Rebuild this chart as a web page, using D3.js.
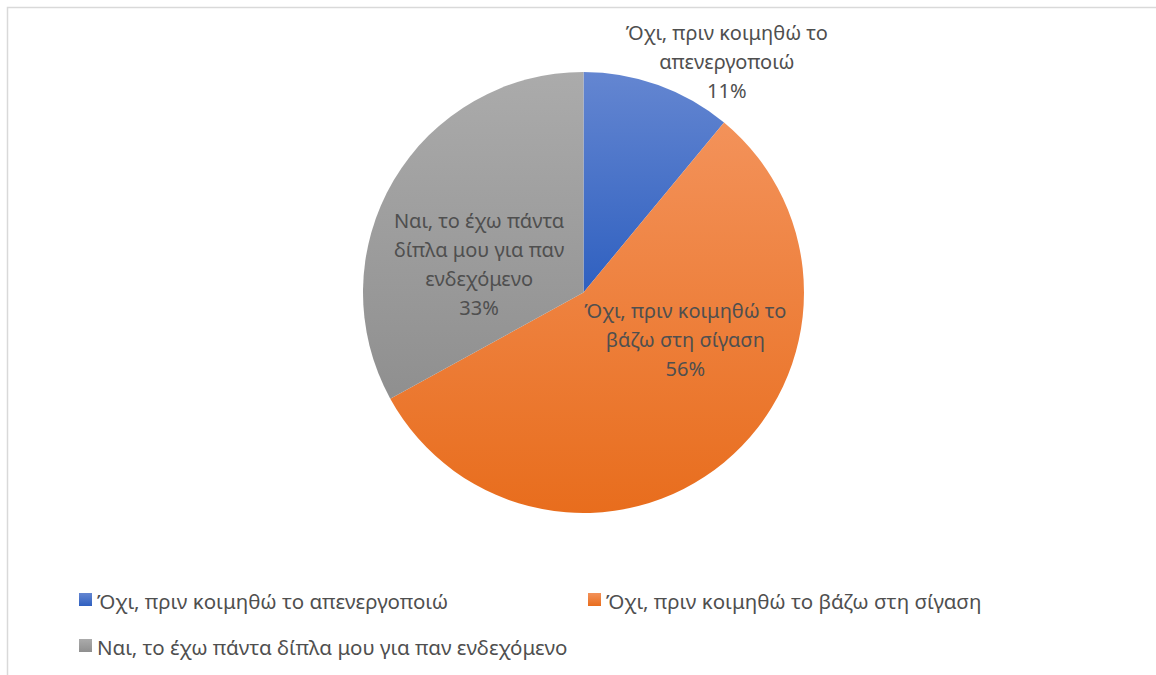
<!DOCTYPE html>
<html>
<head>
<meta charset="utf-8">
<script src="https://cdn.jsdelivr.net/npm/d3@7"></script>
<style>
  html, body { margin: 0; padding: 0; background: #fff; }
  svg { display: block; }
  text { font-family: "Noto Sans", "Open Sans", sans-serif; fill: #4f4f4f; }
</style>
</head>
<body>
<svg id="chart" width="1156" height="675"></svg>
<script>
// Answer categories (one per slice), in drawing order clockwise from 12 o'clock
const categories = [
  "Όχι, πριν κοιμηθώ το απενεργοποιώ",
  "Όχι, πριν κοιμηθώ το βάζω στη σίγαση",
  "Ναι, το έχω πάντα δίπλα μου για παν ενδεχόμενο"
];
// Share of answers, percent
const shares = [11, 56, 33];
// Wrapped label lines shown on the slices
const labelLines = [
  ["Όχι, πριν κοιμηθώ το", "απενεργοποιώ"],
  ["Όχι, πριν κοιμηθώ το", "βάζω στη σίγαση"],
  ["Ναι, το έχω πάντα", "δίπλα μου για παν", "ενδεχόμενο"]
];
// Gradient stops (top, bottom) per slice
const gradTop = ["#6486d1", "#f3925a", "#ababab"];
const gradBottom = ["#2f60c0", "#e86d1d", "#8f8f8f"];

const W = 1156, H = 675;
const cx = 583.5, cy = 292.5, R = 220.5;

const svg = d3.select("#chart");

// Chart frame (extends past right and bottom edges)
svg.append("rect")
  .attr("x", 7.5).attr("y", 7.5)
  .attr("width", W + 20).attr("height", H + 20)
  .attr("fill", "none")
  .attr("stroke", "#d9d9d9")
  .attr("stroke-width", 1.5);

const defs = svg.append("defs");
categories.forEach((c, i) => {
  const g = defs.append("linearGradient")
    .attr("id", "grad" + i)
    .attr("x1", 0).attr("y1", 0).attr("x2", 0).attr("y2", 1);
  g.append("stop").attr("offset", "0%").attr("stop-color", gradTop[i]);
  g.append("stop").attr("offset", "100%").attr("stop-color", gradBottom[i]);
});

const data = categories.map((c, i) => ({ cat: c, value: shares[i], i, lines: labelLines[i] }));

const pie = d3.pie().value(d => d.value).sort(null);
const arc = d3.arc().innerRadius(0).outerRadius(R);
const arcs = pie(data);

const g = svg.append("g").attr("transform", `translate(${cx},${cy})`);

g.selectAll("path.slice")
  .data(arcs)
  .join("path")
  .attr("class", "slice")
  .attr("d", arc)
  .attr("fill", d => `url(#grad${d.data.i})`);

// Label block placement: polar (degrees clockwise from 12 o'clock, radius as fraction of R)
const labelPolar = [
  { deg: 31.9, r: 1.23 },
  { deg: 115.1, r: 0.51 },
  { deg: 284.9, r: 0.49 }
];
const lineH = 29;
const fontSize = 20;

arcs.forEach((a, k) => {
  const d = a.data;
  const lines = d.lines.concat([d.value + "%"]);
  const [lx, ly] = d3.pointRadial(labelPolar[k].deg * Math.PI / 180, labelPolar[k].r * R);
  const t = g.append("text")
    .attr("text-anchor", "middle")
    .style("font-size", fontSize + "px");
  const n = lines.length;
  // vertical centring of the text block on the anchor
  const y0 = ly - (n - 1) * lineH / 2 + fontSize * 0.35;
  lines.forEach((ln, j) => {
    t.append("tspan").attr("x", lx).attr("y", y0 + j * lineH).text(ln);
  });
});

// Legend
const legendPos = [
  { x: 79, y: 593 },
  { x: 588, y: 593 },
  { x: 79, y: 639 }
];
const leg = svg.append("g");
data.forEach((d, i) => {
  const p = legendPos[i];
  leg.append("rect")
    .attr("x", p.x).attr("y", p.y)
    .attr("width", 13).attr("height", 13)
    .attr("fill", `url(#grad${i})`);
  leg.append("text")
    .attr("x", p.x + 18).attr("y", p.y + 16)
    .style("font-size", "20.5px")
    .text(d.cat);
});
</script>
</body>
</html>
